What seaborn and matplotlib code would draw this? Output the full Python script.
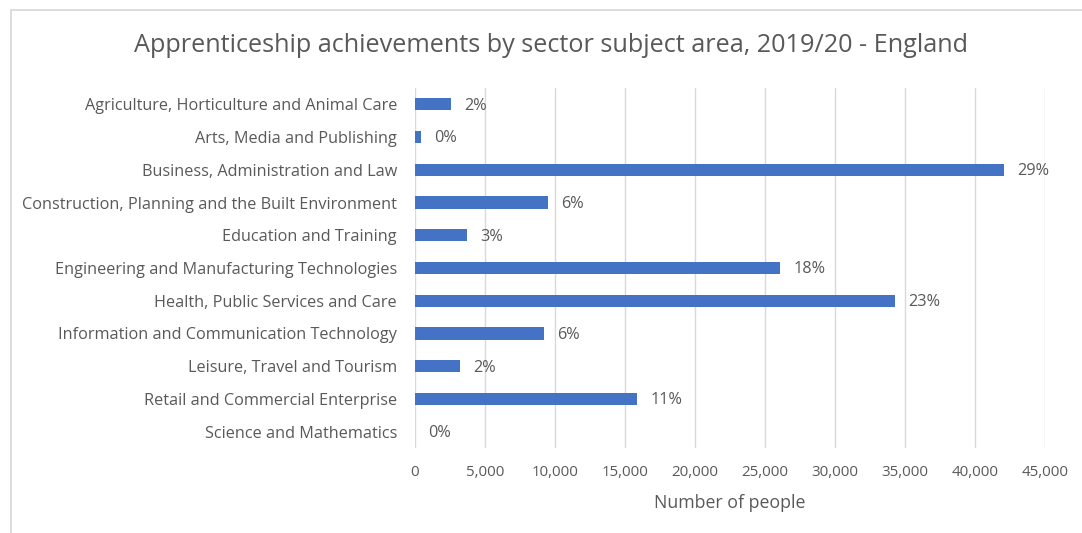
import matplotlib
matplotlib.use("Agg")
import matplotlib.pyplot as plt
from matplotlib.patches import Rectangle
from matplotlib.ticker import FuncFormatter, MultipleLocator
import seaborn as sns
import pandas as pd

sectors = [
    "Agriculture, Horticulture and Animal Care",
    "Arts, Media and Publishing",
    "Business, Administration and Law",
    "Construction, Planning and the Built Environment",
    "Education and Training",
    "Engineering and Manufacturing Technologies",
    "Health, Public Services and Care",
    "Information and Communication Technology",
    "Leisure, Travel and Tourism",
    "Retail and Commercial Enterprise",
    "Science and Mathematics",
]
achievements = [2570, 430, 42050, 9480, 3700, 26080, 34310, 9200, 3220, 15860, 0]

df = pd.DataFrame({"sector": sectors, "people": achievements})
total = sum(achievements)
shares = [f"{round(v / total * 100):.0f}%" for v in achievements]

TEXT = "#595959"
GRID = "#D9D9D9"
BAR = "#4472C4"

sns.set_theme(style="white")
plt.rcParams["font.family"] = ["Open Sans", "DejaVu Sans"]

fig = plt.figure(figsize=(10.82, 5.33), dpi=100)
ax = fig.add_axes([415 / 1082, 1 - 448 / 533, 630 / 1082, 360 / 533])

sns.barplot(data=df, x="people", y="sector", orient="h", color=BAR,
            width=0.37, saturation=1, linewidth=0, ax=ax)

ax.set_xlim(0, 45000)
ax.xaxis.set_major_locator(MultipleLocator(5000))
ax.xaxis.set_major_formatter(FuncFormatter(lambda v, p: f"{int(v):,}"))
ax.grid(axis="x", color=GRID, linewidth=1)
ax.set_axisbelow(True)
for s in ax.spines.values():
    s.set_visible(False)
ax.tick_params(axis="both", length=0, colors=TEXT)
ax.tick_params(axis="y", pad=13, labelsize=11.7)
ax.tick_params(axis="x", pad=12, labelsize=10.8)
ax.set_ylabel("")
ax.set_xlabel("Number of people", color=TEXT, fontsize=12.8, labelpad=10)

for i, (v, lab) in enumerate(zip(achievements, shares)):
    ax.annotate(lab, xy=(v, i), xytext=(9.5, -1), textcoords="offset points",
                ha="left", va="center", color=TEXT, fontsize=11.7)

fig.text(551 / 1082, 1 - 46 / 533,
         "Apprenticeship achievements by sector subject area, 2019/20 - England",
         ha="center", va="center", color=TEXT, fontsize=18.2)

fig.patches.append(Rectangle((11 / 1082, -0.01), 1.0, 1 - 10 / 533 + 0.01,
                             transform=fig.transFigure, fill=False,
                             edgecolor=GRID, linewidth=1.3))

fig.savefig("out.png", dpi=100, facecolor="white")
